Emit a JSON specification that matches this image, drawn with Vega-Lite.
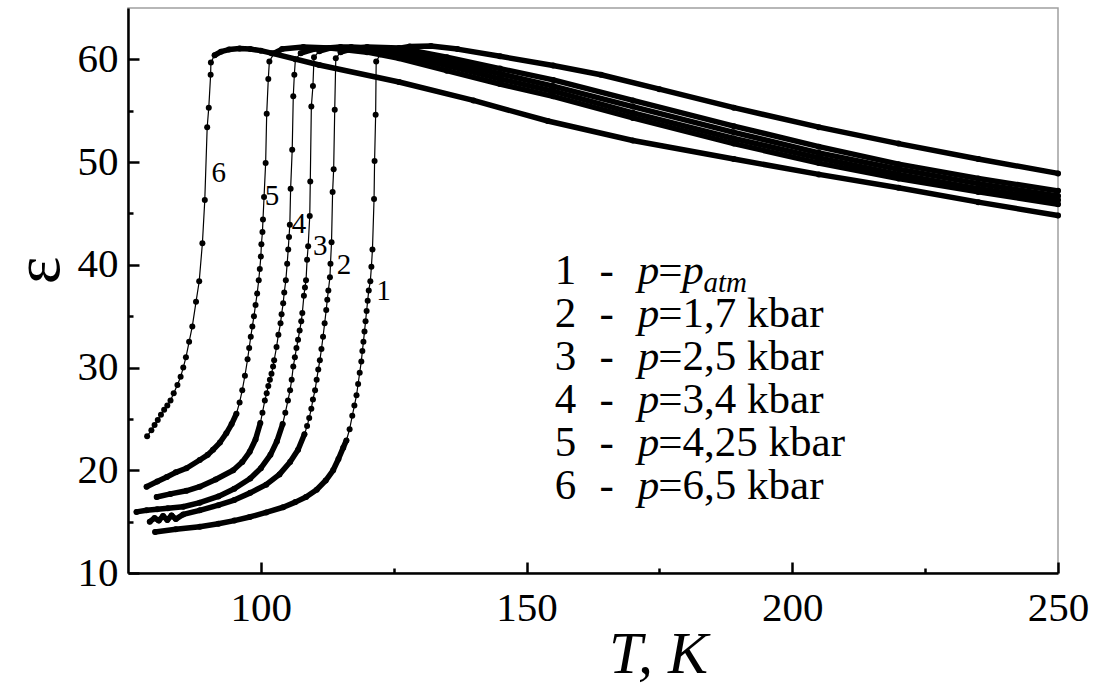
{
  "$schema": "https://vega.github.io/schema/vega-lite/v6.json",
  "width": 930,
  "height": 565,
  "autosize": {"type": "none"},
  "padding": {"left": 128, "top": 8, "right": 45, "bottom": 113},
  "config": {
    "font": "Liberation Serif",
    "view": {"stroke": "#a0a0a0", "strokeWidth": 1.5},
    "mark": {"font": "Liberation Serif"},
    "text": {"font": "Liberation Serif"},
    "axis": {
      "grid": false, "labelFlush": false, "labelOverlap": false,
      "domainColor": "#000", "domainWidth": 2.5, "tickColor": "#000", "tickWidth": 2.5,
      "labelColor": "#000", "titleColor": "#000",
      "labelFont": "Liberation Serif",
      "titleFont": "Liberation Serif",
      "labelFontSize": 41, "titleFontWeight": "normal"
    }
  },
  "datasets": {
    "pts": [
      {"c":1,"s":"L","T":80.1,"e":14.0},{"c":1,"s":"L","T":84,"e":14.25},{"c":1,"s":"L","T":88.5,"e":14.5},{"c":1,"s":"L","T":92,"e":14.8},{"c":1,"s":"L","T":95,"e":15.1},{"c":1,"s":"L","T":97.9,"e":15.45},{"c":1,"s":"L","T":101,"e":15.9},{"c":1,"s":"L","T":104.2,"e":16.4},{"c":1,"s":"L","T":106.5,"e":16.9},{"c":1,"s":"L","T":108.5,"e":17.4},{"c":1,"s":"L","T":110.5,"e":18.1},{"c":1,"s":"L","T":112.2,"e":19.0},{"c":1,"s":"L","T":113.6,"e":20.0},{"c":1,"s":"L","T":114.6,"e":21.1},{"c":1,"s":"L","T":115.5,"e":22.2},{"c":1,"s":"L","T":116.1,"e":22.9},
      {"c":1,"s":"R","T":116.7,"e":24.0},{"c":1,"s":"R","T":117.2,"e":25.3},{"c":1,"s":"R","T":117.6,"e":26.3},{"c":1,"s":"R","T":118.0,"e":27.3},{"c":1,"s":"R","T":118.3,"e":28.4},{"c":1,"s":"R","T":118.6,"e":29.5},{"c":1,"s":"R","T":118.9,"e":30.6},{"c":1,"s":"R","T":119.1,"e":31.6},{"c":1,"s":"R","T":119.3,"e":32.5},{"c":1,"s":"R","T":119.5,"e":33.5},{"c":1,"s":"R","T":119.7,"e":34.5},{"c":1,"s":"R","T":119.9,"e":35.5},{"c":1,"s":"R","T":120.1,"e":36.5},{"c":1,"s":"R","T":120.3,"e":37.5},{"c":1,"s":"R","T":120.6,"e":38.4},{"c":1,"s":"R","T":120.8,"e":39.8},{"c":1,"s":"R","T":121.0,"e":41.5},{"c":1,"s":"R","T":121.3,"e":46.4},{"c":1,"s":"R","T":121.4,"e":50.1},{"c":1,"s":"R","T":121.6,"e":54.6},{"c":1,"s":"R","T":121.7,"e":59.8},
      {"c":1,"s":"H","T":122.5,"e":60.5},{"c":1,"s":"H","T":125,"e":61.0},{"c":1,"s":"H","T":128,"e":61.25},{"c":1,"s":"H","T":132,"e":61.3},{"c":1,"s":"H","T":137,"e":61.0},{"c":1,"s":"H","T":145,"e":60.3},{"c":1,"s":"H","T":155,"e":59.4},{"c":1,"s":"H","T":164,"e":58.5},{"c":1,"s":"H","T":175,"e":57.1},{"c":1,"s":"H","T":189,"e":55.3},{"c":1,"s":"H","T":205,"e":53.4},{"c":1,"s":"H","T":220,"e":51.8},{"c":1,"s":"H","T":235,"e":50.3},{"c":1,"s":"H","T":250,"e":48.9},

      {"c":2,"s":"L","T":79.1,"e":15.0},{"c":2,"s":"L","T":80.0,"e":15.35},{"c":2,"s":"L","T":80.8,"e":15.1},{"c":2,"s":"L","T":81.6,"e":15.55},{"c":2,"s":"L","T":82.4,"e":15.15},{"c":2,"s":"L","T":83.2,"e":15.6},{"c":2,"s":"L","T":84.0,"e":15.25},{"c":2,"s":"L","T":85.4,"e":15.7},{"c":2,"s":"L","T":88.5,"e":16.1},{"c":2,"s":"L","T":92,"e":16.6},{"c":2,"s":"L","T":95,"e":17.1},{"c":2,"s":"L","T":98,"e":17.8},{"c":2,"s":"L","T":101,"e":18.6},{"c":2,"s":"L","T":103.5,"e":19.6},{"c":2,"s":"L","T":105.5,"e":20.8},{"c":2,"s":"L","T":107,"e":22.0},{"c":2,"s":"L","T":108.2,"e":23.5},
      {"c":2,"s":"R","T":108.7,"e":24.3},{"c":2,"s":"R","T":109.1,"e":25.1},{"c":2,"s":"R","T":109.5,"e":26.0},{"c":2,"s":"R","T":109.8,"e":26.9},{"c":2,"s":"R","T":110.2,"e":27.8},{"c":2,"s":"R","T":110.5,"e":28.8},{"c":2,"s":"R","T":110.8,"e":29.8},{"c":2,"s":"R","T":111.1,"e":30.7},{"c":2,"s":"R","T":111.4,"e":31.8},{"c":2,"s":"R","T":111.7,"e":33.0},{"c":2,"s":"R","T":112.0,"e":34.3},{"c":2,"s":"R","T":112.3,"e":35.6},{"c":2,"s":"R","T":112.5,"e":36.6},{"c":2,"s":"R","T":112.7,"e":37.5},{"c":2,"s":"R","T":113.0,"e":38.8},{"c":2,"s":"R","T":113.1,"e":40.1},{"c":2,"s":"R","T":113.3,"e":42.2},{"c":2,"s":"R","T":113.5,"e":47.1},{"c":2,"s":"R","T":113.7,"e":49.3},{"c":2,"s":"R","T":113.9,"e":55.1},{"c":2,"s":"R","T":114.1,"e":60.1},
      {"c":2,"s":"H","T":115,"e":60.7},{"c":2,"s":"H","T":117,"e":61.0},{"c":2,"s":"H","T":120,"e":61.2},{"c":2,"s":"H","T":126,"e":61.1},{"c":2,"s":"H","T":135,"e":60.2},{"c":2,"s":"H","T":145,"e":59.1},{"c":2,"s":"H","T":155,"e":58.0},{"c":2,"s":"H","T":170,"e":56.0},{"c":2,"s":"H","T":189,"e":53.5},{"c":2,"s":"H","T":205,"e":51.5},{"c":2,"s":"H","T":220,"e":49.8},{"c":2,"s":"H","T":235,"e":48.4},{"c":2,"s":"H","T":250,"e":47.2},

      {"c":3,"s":"L","T":76.6,"e":15.95},{"c":3,"s":"L","T":78.5,"e":16.1},{"c":3,"s":"L","T":80.5,"e":16.2},{"c":3,"s":"L","T":82.5,"e":16.3},{"c":3,"s":"L","T":85.4,"e":16.45},{"c":3,"s":"L","T":88.5,"e":16.85},{"c":3,"s":"L","T":92,"e":17.45},{"c":3,"s":"L","T":95,"e":18.2},{"c":3,"s":"L","T":98,"e":19.2},{"c":3,"s":"L","T":100,"e":20.2},{"c":3,"s":"L","T":101.8,"e":21.5},{"c":3,"s":"L","T":103,"e":22.8},{"c":3,"s":"L","T":104.1,"e":24.5},
      {"c":3,"s":"R","T":104.6,"e":25.6},{"c":3,"s":"R","T":105.1,"e":26.8},{"c":3,"s":"R","T":105.5,"e":27.8},{"c":3,"s":"R","T":105.8,"e":28.8},{"c":3,"s":"R","T":106.1,"e":30.1},{"c":3,"s":"R","T":106.4,"e":31.0},{"c":3,"s":"R","T":106.7,"e":31.9},{"c":3,"s":"R","T":107.0,"e":32.7},{"c":3,"s":"R","T":107.3,"e":33.6},{"c":3,"s":"R","T":107.6,"e":34.5},{"c":3,"s":"R","T":107.8,"e":35.3},{"c":3,"s":"R","T":108.1,"e":37.0},{"c":3,"s":"R","T":108.3,"e":37.8},{"c":3,"s":"R","T":108.5,"e":38.5},{"c":3,"s":"R","T":108.7,"e":40.5},{"c":3,"s":"R","T":108.9,"e":41.8},{"c":3,"s":"R","T":109.2,"e":44.75},{"c":3,"s":"R","T":109.3,"e":48.1},{"c":3,"s":"R","T":109.5,"e":55.4},{"c":3,"s":"R","T":109.8,"e":57.4},{"c":3,"s":"R","T":110.0,"e":60.2},
      {"c":3,"s":"H","T":111,"e":60.8},{"c":3,"s":"H","T":113,"e":61.1},{"c":3,"s":"H","T":117,"e":61.2},{"c":3,"s":"H","T":121,"e":61.1},{"c":3,"s":"H","T":126,"e":60.8},{"c":3,"s":"H","T":135,"e":59.8},{"c":3,"s":"H","T":145,"e":58.6},{"c":3,"s":"H","T":155,"e":57.4},{"c":3,"s":"H","T":170,"e":55.4},{"c":3,"s":"H","T":189,"e":52.9},{"c":3,"s":"H","T":205,"e":50.9},{"c":3,"s":"H","T":220,"e":49.3},{"c":3,"s":"H","T":235,"e":47.9},{"c":3,"s":"H","T":250,"e":46.7},

      {"c":4,"s":"L","T":80.4,"e":17.4},{"c":4,"s":"L","T":83,"e":17.7},{"c":4,"s":"L","T":86,"e":18.0},{"c":4,"s":"L","T":88.5,"e":18.4},{"c":4,"s":"L","T":91.5,"e":19.1},{"c":4,"s":"L","T":94.8,"e":20.0},{"c":4,"s":"L","T":96.5,"e":20.8},{"c":4,"s":"L","T":97.9,"e":21.8},{"c":4,"s":"L","T":99.0,"e":23.0},{"c":4,"s":"L","T":99.9,"e":24.6},
      {"c":4,"s":"R","T":100.3,"e":25.6},{"c":4,"s":"R","T":100.75,"e":26.8},{"c":4,"s":"R","T":101.1,"e":27.5},{"c":4,"s":"R","T":101.4,"e":28.2},{"c":4,"s":"R","T":101.7,"e":28.8},{"c":4,"s":"R","T":102.0,"e":29.4},{"c":4,"s":"R","T":102.3,"e":30.1},{"c":4,"s":"R","T":102.5,"e":30.7},{"c":4,"s":"R","T":102.95,"e":32.0},{"c":4,"s":"R","T":103.3,"e":33.2},{"c":4,"s":"R","T":103.7,"e":34.3},{"c":4,"s":"R","T":103.9,"e":35.2},{"c":4,"s":"R","T":104.2,"e":36.25},{"c":4,"s":"R","T":104.4,"e":37.3},{"c":4,"s":"R","T":104.7,"e":38.5},{"c":4,"s":"R","T":104.95,"e":40.1},{"c":4,"s":"R","T":105.15,"e":41.5},{"c":4,"s":"R","T":105.3,"e":42.7},{"c":4,"s":"R","T":105.45,"e":43.9},{"c":4,"s":"R","T":105.6,"e":47.4},{"c":4,"s":"R","T":105.9,"e":51.2},{"c":4,"s":"R","T":106.1,"e":56.4},{"c":4,"s":"R","T":106.3,"e":58.5},{"c":4,"s":"R","T":106.5,"e":60.0},
      {"c":4,"s":"H","T":107.5,"e":60.6},{"c":4,"s":"H","T":110,"e":61.0},{"c":4,"s":"H","T":115,"e":61.2},{"c":4,"s":"H","T":120,"e":61.05},{"c":4,"s":"H","T":126,"e":60.5},{"c":4,"s":"H","T":135,"e":59.4},{"c":4,"s":"H","T":145,"e":58.1},{"c":4,"s":"H","T":155,"e":56.9},{"c":4,"s":"H","T":170,"e":54.8},{"c":4,"s":"H","T":189,"e":52.3},{"c":4,"s":"H","T":205,"e":50.4},{"c":4,"s":"H","T":220,"e":48.8},{"c":4,"s":"H","T":235,"e":47.4},{"c":4,"s":"H","T":250,"e":46.3},

      {"c":5,"s":"L","T":78.5,"e":18.4},{"c":5,"s":"L","T":80.5,"e":18.9},{"c":5,"s":"L","T":82.3,"e":19.35},{"c":5,"s":"L","T":84,"e":19.8},{"c":5,"s":"L","T":86,"e":20.2},{"c":5,"s":"L","T":88.5,"e":21.0},{"c":5,"s":"L","T":90,"e":21.5},{"c":5,"s":"L","T":91,"e":22.0},{"c":5,"s":"L","T":92.3,"e":22.7},{"c":5,"s":"L","T":93.5,"e":23.6},{"c":5,"s":"L","T":94.5,"e":24.5},{"c":5,"s":"L","T":95.4,"e":25.5},
      {"c":5,"s":"R","T":96.0,"e":26.6},{"c":5,"s":"R","T":96.5,"e":27.8},{"c":5,"s":"R","T":97.0,"e":29.2},{"c":5,"s":"R","T":97.5,"e":30.8},{"c":5,"s":"R","T":97.8,"e":31.9},{"c":5,"s":"R","T":98.1,"e":33.0},{"c":5,"s":"R","T":98.4,"e":34.0},{"c":5,"s":"R","T":98.7,"e":35.0},{"c":5,"s":"R","T":99.0,"e":36.1},{"c":5,"s":"R","T":99.3,"e":37.2},{"c":5,"s":"R","T":99.6,"e":38.5},{"c":5,"s":"R","T":99.8,"e":39.6},{"c":5,"s":"R","T":100.0,"e":40.8},{"c":5,"s":"R","T":100.1,"e":42.0},{"c":5,"s":"R","T":100.3,"e":43.2},{"c":5,"s":"R","T":100.4,"e":44.4},{"c":5,"s":"R","T":100.6,"e":46.6},{"c":5,"s":"R","T":100.9,"e":49.9},{"c":5,"s":"R","T":101.1,"e":54.7},{"c":5,"s":"R","T":101.4,"e":58.1},{"c":5,"s":"R","T":101.6,"e":59.8},
      {"c":5,"s":"H","T":102.5,"e":60.6},{"c":5,"s":"H","T":104,"e":61.0},{"c":5,"s":"H","T":108,"e":61.2},{"c":5,"s":"H","T":113,"e":61.1},{"c":5,"s":"H","T":120,"e":60.7},{"c":5,"s":"H","T":126,"e":60.1},{"c":5,"s":"H","T":135,"e":58.9},{"c":5,"s":"H","T":145,"e":57.6},{"c":5,"s":"H","T":155,"e":56.4},{"c":5,"s":"H","T":170,"e":54.3},{"c":5,"s":"H","T":189,"e":51.8},{"c":5,"s":"H","T":205,"e":49.9},{"c":5,"s":"H","T":220,"e":48.4},{"c":5,"s":"H","T":235,"e":47.1},{"c":5,"s":"H","T":250,"e":45.9},

      {"c":6,"s":"R","T":78.6,"e":23.3},{"c":6,"s":"R","T":79.4,"e":23.9},{"c":6,"s":"R","T":80.0,"e":24.4},{"c":6,"s":"R","T":80.6,"e":24.9},{"c":6,"s":"R","T":81.2,"e":25.4},{"c":6,"s":"R","T":81.8,"e":25.9},{"c":6,"s":"R","T":82.4,"e":26.3},{"c":6,"s":"R","T":83.0,"e":26.8},{"c":6,"s":"R","T":83.6,"e":27.5},{"c":6,"s":"R","T":84.3,"e":28.3},{"c":6,"s":"R","T":84.9,"e":29.1},{"c":6,"s":"R","T":85.4,"e":30.0},{"c":6,"s":"R","T":85.9,"e":31.0},{"c":6,"s":"R","T":86.5,"e":32.5},{"c":6,"s":"R","T":87.1,"e":34.0},{"c":6,"s":"R","T":87.8,"e":36.4},{"c":6,"s":"R","T":88.4,"e":38.4},{"c":6,"s":"R","T":89.0,"e":42.1},{"c":6,"s":"R","T":89.45,"e":46.3},{"c":6,"s":"R","T":89.9,"e":53.4},{"c":6,"s":"R","T":90.2,"e":55.3},{"c":6,"s":"R","T":90.55,"e":58.5},{"c":6,"s":"R","T":90.6,"e":59.7},
      {"c":6,"s":"H","T":91.3,"e":60.4},{"c":6,"s":"H","T":92.5,"e":60.75},{"c":6,"s":"H","T":94,"e":60.95},{"c":6,"s":"H","T":96,"e":61.05},{"c":6,"s":"H","T":98,"e":61.0},{"c":6,"s":"H","T":100,"e":60.85},{"c":6,"s":"H","T":102,"e":60.6},{"c":6,"s":"H","T":111,"e":59.45},{"c":6,"s":"H","T":126,"e":57.8},{"c":6,"s":"H","T":140,"e":56.0},{"c":6,"s":"H","T":154,"e":54.0},{"c":6,"s":"H","T":170,"e":52.1},{"c":6,"s":"H","T":189,"e":50.3},{"c":6,"s":"H","T":205,"e":48.8},{"c":6,"s":"H","T":220,"e":47.5},{"c":6,"s":"H","T":235,"e":46.1},{"c":6,"s":"H","T":250,"e":44.8}
    ],
    "lab": [
      {"t":"1","T":121.7,"e":36.6},{"t":"2","T":114.3,"e":39.1},{"t":"3","T":109.8,"e":40.95},
      {"t":"4","T":105.8,"e":43.1},{"t":"5","T":100.75,"e":45.8},{"t":"6","T":90.7,"e":48.1}
    ],
    "leg": [
      {"n":"1","v":"=","e":38.13},
      {"n":"2","v":"=1,7 kbar","e":33.94},
      {"n":"3","v":"=2,5 kbar","e":29.75},
      {"n":"4","v":"=3,4 kbar","e":25.56},
      {"n":"5","v":"=4,25 kbar","e":21.37},
      {"n":"6","v":"=6,5 kbar","e":17.18}
    ]
  },
  "layer": [
    {
      "data": {"name": "pts"},
      "mark": {"type": "line", "color": "#000", "strokeWidth": 1.2},
      "encoding": {
        "x": {
          "field": "T", "type": "quantitative",
          "scale": {"domain": [75, 250], "nice": false, "zero": false},
          "axis": {
            "values": [100, 125, 150, 175, 200, 225, 250],
            "labelExpr": "datum.value % 50 === 0 ? datum.label : ''",
            "tickSize": {"condition": {"test": "datum.value % 50 === 0", "value": -11}, "value": -5},
            "labelPadding": 26,
            "title": "T, K",
            "titleFontSize": 60,
            "titleFontStyle": "italic",
            "titleX": 530,
            "titleY": 99,
            "titleAlign": "center",
            "titleBaseline": "alphabetic"
          }
        },
        "y": {
          "field": "e", "type": "quantitative",
          "scale": {"domain": [10, 65], "nice": false, "zero": false},
          "axis": {
            "values": [10, 15, 20, 25, 30, 35, 40, 45, 50, 55, 60],
            "labelExpr": "datum.value % 10 === 0 ? datum.label : ''",
            "tickSize": {"condition": {"test": "datum.value % 10 === 0", "value": -11}, "value": -5},
            "labelPadding": 21,
            "labelBaseline": "middle",
            "title": "ε",
            "titleFontSize": 66,
            "titleAngle": -90,
            "titleX": -90,
            "titleY": 262,
            "titleAlign": "center",
            "titleBaseline": "middle"
          }
        },
        "detail": {"field": "c"}
      }
    },
    {
      "data": {"name": "pts"},
      "transform": [{"filter": "datum.s !== 'R'"}],
      "mark": {"type": "line", "color": "#000", "strokeWidth": 5.5, "strokeCap": "round", "strokeJoin": "round"},
      "encoding": {
        "x": {"field": "T", "type": "quantitative"},
        "y": {"field": "e", "type": "quantitative"},
        "detail": [{"field": "c"}, {"field": "s"}]
      }
    },
    {
      "data": {"name": "pts"},
      "mark": {"type": "circle", "color": "#000", "size": 36, "opacity": 1},
      "encoding": {
        "x": {"field": "T", "type": "quantitative"},
        "y": {"field": "e", "type": "quantitative"}
      }
    },
    {
      "data": {"name": "lab"},
      "mark": {"type": "text", "font": "Liberation Serif", "align": "left", "baseline": "alphabetic", "fontSize": 29, "color": "#000"},
      "encoding": {
        "x": {"field": "T", "type": "quantitative"},
        "y": {"field": "e", "type": "quantitative"},
        "text": {"field": "t"}
      }
    },
    {
      "data": {"name": "leg"},
      "mark": {"type": "text", "font": "Liberation Serif", "align": "left", "baseline": "alphabetic", "fontSize": 43, "color": "#000"},
      "encoding": {
        "x": {"datum": 155.3, "type": "quantitative"},
        "y": {"field": "e", "type": "quantitative"},
        "text": {"field": "n"}
      }
    },
    {
      "data": {"name": "leg"},
      "mark": {"type": "text", "font": "Liberation Serif", "align": "left", "baseline": "alphabetic", "fontSize": 43, "color": "#000", "text": "-"},
      "encoding": {
        "x": {"datum": 163.7, "type": "quantitative"},
        "y": {"field": "e", "type": "quantitative"}
      }
    },
    {
      "data": {"name": "leg"},
      "mark": {"type": "text", "font": "Liberation Serif", "align": "left", "baseline": "alphabetic", "fontSize": 43, "fontStyle": "italic", "color": "#000", "text": "p"},
      "encoding": {
        "x": {"datum": 170.9, "type": "quantitative"},
        "y": {"field": "e", "type": "quantitative"}
      }
    },
    {
      "data": {"name": "leg"},
      "mark": {"type": "text", "font": "Liberation Serif", "align": "left", "baseline": "alphabetic", "fontSize": 43, "color": "#000"},
      "encoding": {
        "x": {"datum": 174.8, "type": "quantitative"},
        "y": {"field": "e", "type": "quantitative"},
        "text": {"field": "v"}
      }
    },
    {
      "data": {"name": "leg"},
      "transform": [{"filter": "datum.n === '1'"}],
      "mark": {"type": "text", "font": "Liberation Serif", "align": "left", "baseline": "alphabetic", "fontSize": 43, "fontStyle": "italic", "color": "#000", "text": "p"},
      "encoding": {
        "x": {"datum": 179.3, "type": "quantitative"},
        "y": {"field": "e", "type": "quantitative"}
      }
    },
    {
      "data": {"name": "leg"},
      "transform": [{"filter": "datum.n === '1'"}],
      "mark": {"type": "text", "font": "Liberation Serif", "align": "left", "baseline": "alphabetic", "fontSize": 29, "fontStyle": "italic", "color": "#000", "text": "atm", "dy": 8},
      "encoding": {
        "x": {"datum": 183.3, "type": "quantitative"},
        "y": {"field": "e", "type": "quantitative"}
      }
    }
  ]
}
